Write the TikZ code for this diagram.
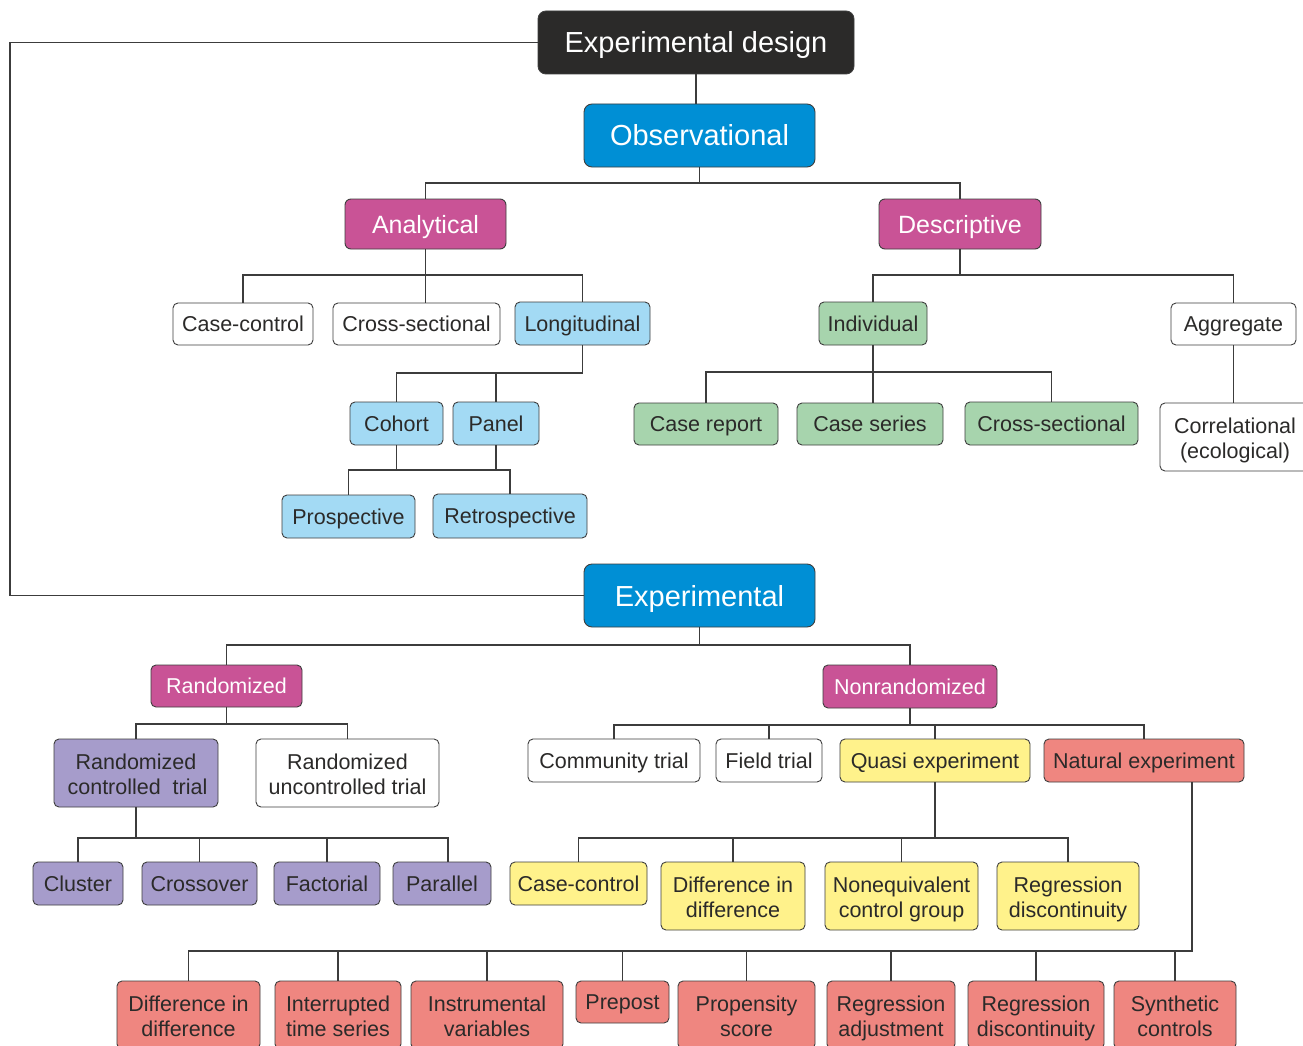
\documentclass[tikz,border=0pt]{standalone}
\usepackage{fontspec}
\setmainfont{Liberation Sans}
\definecolor{edbk}{HTML}{2B2A29}
\definecolor{obsblue}{HTML}{008FD5}
\definecolor{mag}{HTML}{C95396}
\definecolor{lblue}{HTML}{A3DAF4}
\definecolor{lgreen}{HTML}{A7D4AD}
\definecolor{lpurp}{HTML}{A69CCB}
\definecolor{lyel}{HTML}{FFF28B}
\definecolor{salm}{HTML}{EF8680}
\definecolor{txt}{HTML}{2B2A29}
\definecolor{bordc}{HTML}{3E3E3E}
\definecolor{linec}{HTML}{3C3C3C}
\tikzset{
  box/.style={draw=bordc, line width=0.9pt, rounded corners=5pt, inner sep=0pt,
    align=center, text=txt, font=\fontsize{21.5}{25}\selectfont},
  one/.style={box, text height=18.6pt, text depth=3pt},
  two/.style={box, text height=42.4pt, text depth=0pt},
  big/.style={box, rounded corners=8pt, font=\fontsize{29}{34}\selectfont,
    text=white, text height=25.5pt, text depth=4.5pt},
  mid/.style={box, rounded corners=6pt, font=\fontsize{25}{30}\selectfont,
    text=white, fill=mag, text height=22pt, text depth=4pt},
  link/.style={draw=linec, line width=1.1pt},
}
\begin{document}
\begin{tikzpicture}[x=1pt, y=-1pt]
\useasboundingbox (0,0) rectangle (1303,1046);
\clip (0,0) rectangle (1303,1046);
\fill[white] (0,0) rectangle (1303,1046);

% free corner points of the long links
\coordinate (lft) at (10,42);
\coordinate (natdrop) at (1192,951);

% --- top levels ---
\node[big, fill=edbk, minimum width=316, minimum height=63] (ed) at (696,42.5) {Experimental design};
\node[big, fill=obsblue, minimum width=231, minimum height=63] (obs) at (699.5,135.5) {Observational};
\node[big, fill=obsblue, minimum width=231, minimum height=63] (exp) at (699.5,595.5) {Experimental};

% --- observational branch ---
\node[mid, minimum width=161, minimum height=50] (ana) at (425.5,224) {Analytical};
\node[mid, minimum width=162, minimum height=50] (des) at (960,224) {Descriptive};

\node[one, fill=white, minimum width=140, minimum height=42] (cc1) at (243,324) {Case-control};
\node[one, fill=white, minimum width=167, minimum height=42] (cs1) at (416.5,324) {Cross-sectional};
\node[one, fill=lblue, minimum width=135, minimum height=43] (lon) at (582.5,323.5) {Longitudinal};
\node[one, fill=lblue, minimum width=93, minimum height=43] (coh) at (396.5,423.5) {Cohort};
\node[one, fill=lblue, minimum width=86, minimum height=43] (pan) at (496,423.5) {Panel};
\node[one, fill=lblue, minimum width=133, minimum height=43] (pro) at (348.5,516.5) {Prospective};
\node[one, fill=lblue, minimum width=154, minimum height=44] (ret) at (510,516) {Retrospective};

\node[one, fill=lgreen, minimum width=108, minimum height=43] (ind) at (873,323.5) {Individual};
\node[one, fill=white, minimum width=125, minimum height=42] (agg) at (1233.5,324) {Aggregate};
\node[one, fill=lgreen, minimum width=144, minimum height=42] (crp) at (706,424) {Case report};
\node[one, fill=lgreen, minimum width=146, minimum height=42] (cse) at (870,424) {Case series};
\node[one, fill=lgreen, minimum width=173, minimum height=43] (cs2) at (1051.5,423.5) {Cross-sectional};
\node[two, fill=white, minimum width=150, minimum height=68] (cor) at (1235,437) {Correlational\\(ecological)};

% --- experimental branch ---
\node[one, fill=mag, text=white, minimum width=151, minimum height=42] (ran) at (226.5,686) {Randomized};
\node[one, fill=mag, text=white, minimum width=174, minimum height=43] (non) at (910,686.5) {Nonrandomized};

\node[two, fill=lpurp, minimum width=164, minimum height=68] (rct) at (136,773) {Randomized\\\hspace*{3pt}controlled\ \ trial};
\node[two, fill=white, minimum width=183, minimum height=68] (rut) at (347.5,773) {Randomized\\uncontrolled trial};
\node[one, fill=lpurp, minimum width=90, minimum height=43] (clu) at (78,883.5) {Cluster};
\node[one, fill=lpurp, minimum width=115, minimum height=43] (cro) at (199.5,883.5) {Crossover};
\node[one, fill=lpurp, minimum width=106, minimum height=43] (fac) at (327,883.5) {Factorial};
\node[one, fill=lpurp, minimum width=98, minimum height=43] (par) at (442,883.5) {Parallel};

\node[one, fill=white, minimum width=172, minimum height=43] (com) at (614,760.5) {Community trial};
\node[one, fill=white, minimum width=106, minimum height=43] (fie) at (769,760.5) {Field trial};
\node[one, fill=lyel, minimum width=190, minimum height=43] (qua) at (935,760.5) {Quasi experiment};
\node[one, fill=salm, minimum width=200, minimum height=43] (nat) at (1144,760.5) {Natural experiment};

\node[one, fill=lyel, minimum width=137, minimum height=43] (cc2) at (578.5,883.5) {Case-control};
\node[two, fill=lyel, minimum width=144, minimum height=68] (did1) at (733,896) {Difference in\\difference};
\node[two, fill=lyel, minimum width=153, minimum height=68] (neq) at (901.5,896) {Nonequivalent\\control group};
\node[two, fill=lyel, minimum width=142, minimum height=68] (rd1) at (1068,896) {Regression\\discontinuity};

\node[two, fill=salm, minimum width=143, minimum height=68] (b1) at (188.5,1015) {Difference in\\difference};
\node[two, fill=salm, minimum width=126, minimum height=68] (b2) at (338,1015) {Interrupted\\time series};
\node[two, fill=salm, minimum width=152, minimum height=68] (b3) at (487,1015) {Instrumental\\variables};
\node[one, fill=salm, minimum width=93, minimum height=42] (b4) at (622.5,1002) {Prepost};
\node[two, fill=salm, minimum width=137, minimum height=68] (b5) at (746.5,1015) {Propensity\\score};
\node[two, fill=salm, minimum width=128, minimum height=68] (b6) at (891,1015) {Regression\\adjustment};
\node[two, fill=salm, minimum width=136, minimum height=68] (b7) at (1036,1015) {Regression\\discontinuity};
\node[two, fill=salm, minimum width=122, minimum height=68] (b8) at (1175,1015) {Synthetic\\controls};

% --- tree links ---
\begin{scope}[link]
  % root
  \draw (ed.south) -- (ed.south |- obs.north);
  \draw (ed.west) -- (ed.west -| lft) |- (exp.west);
  % observational
  \draw (obs.south) -- (obs.south |- 0,183);
  \draw (ana.north) -- (ana.north |- 0,183) -| (des.north);
  % analytical
  \draw (ana.south) -- (ana.south |- cs1.north);
  \draw (cc1.north) -- (cc1.north |- 0,275) -| (lon.north);
  % longitudinal
  \draw (lon.south) -- (lon.south |- 0,373) -| (coh.north);
  \draw (pan.north) -- (pan.north |- 0,373);
  \draw (coh.south) -- (coh.south |- 0,470);
  \draw (pan.south) -- (pan.south |- 0,470);
  \draw (pro.north) -- (pro.north |- 0,470) -| (ret.north);
  % descriptive
  \draw (des.south) -- (des.south |- 0,275);
  \draw (ind.north) -- (ind.north |- 0,275) -| (agg.north);
  \draw (ind.south) -- (ind.south |- cse.north);
  \draw (crp.north) -- (crp.north |- 0,372) -| (cs2.north);
  \draw (agg.south) -- (agg.south |- cor.north);
  % experimental
  \draw (exp.south) -- (exp.south |- 0,645);
  \draw (ran.north) -- (ran.north |- 0,645) -| (non.north);
  % randomized
  \draw (ran.south) -- (ran.south |- 0,724);
  \draw (rct.north) -- (rct.north |- 0,724) -| (rut.north);
  \draw (rct.south) -- (rct.south |- 0,838);
  \draw (clu.north) -- (clu.north |- 0,838) -| ([xshift=6pt]par.north);
  \draw (cro.north) -- (cro.north |- 0,838);
  \draw (fac.north) -- (fac.north |- 0,838);
  % nonrandomized
  \draw (non.south) -- (non.south |- 0,725);
  \draw (com.north) -- (com.north |- 0,725) -| (nat.north);
  \draw (fie.north) -- (fie.north |- 0,725);
  \draw (qua.north) -- (qua.north |- 0,725);
  % quasi experiment
  \draw (qua.south) -- (qua.south |- 0,838);
  \draw (cc2.north) -- (cc2.north |- 0,838) -| (rd1.north);
  \draw (did1.north) -- (did1.north |- 0,838);
  \draw (neq.north) -- (neq.north |- 0,838);
  % natural experiment
  \draw (nat.south -| natdrop) -- (natdrop) -- (b1.north |- natdrop) -- (b1.north);
  \foreach \b in {b2,b3,b4,b5,b6,b7,b8}
    \draw (\b.north) -- (\b.north |- natdrop);
\end{scope}
\end{tikzpicture}
\end{document}
